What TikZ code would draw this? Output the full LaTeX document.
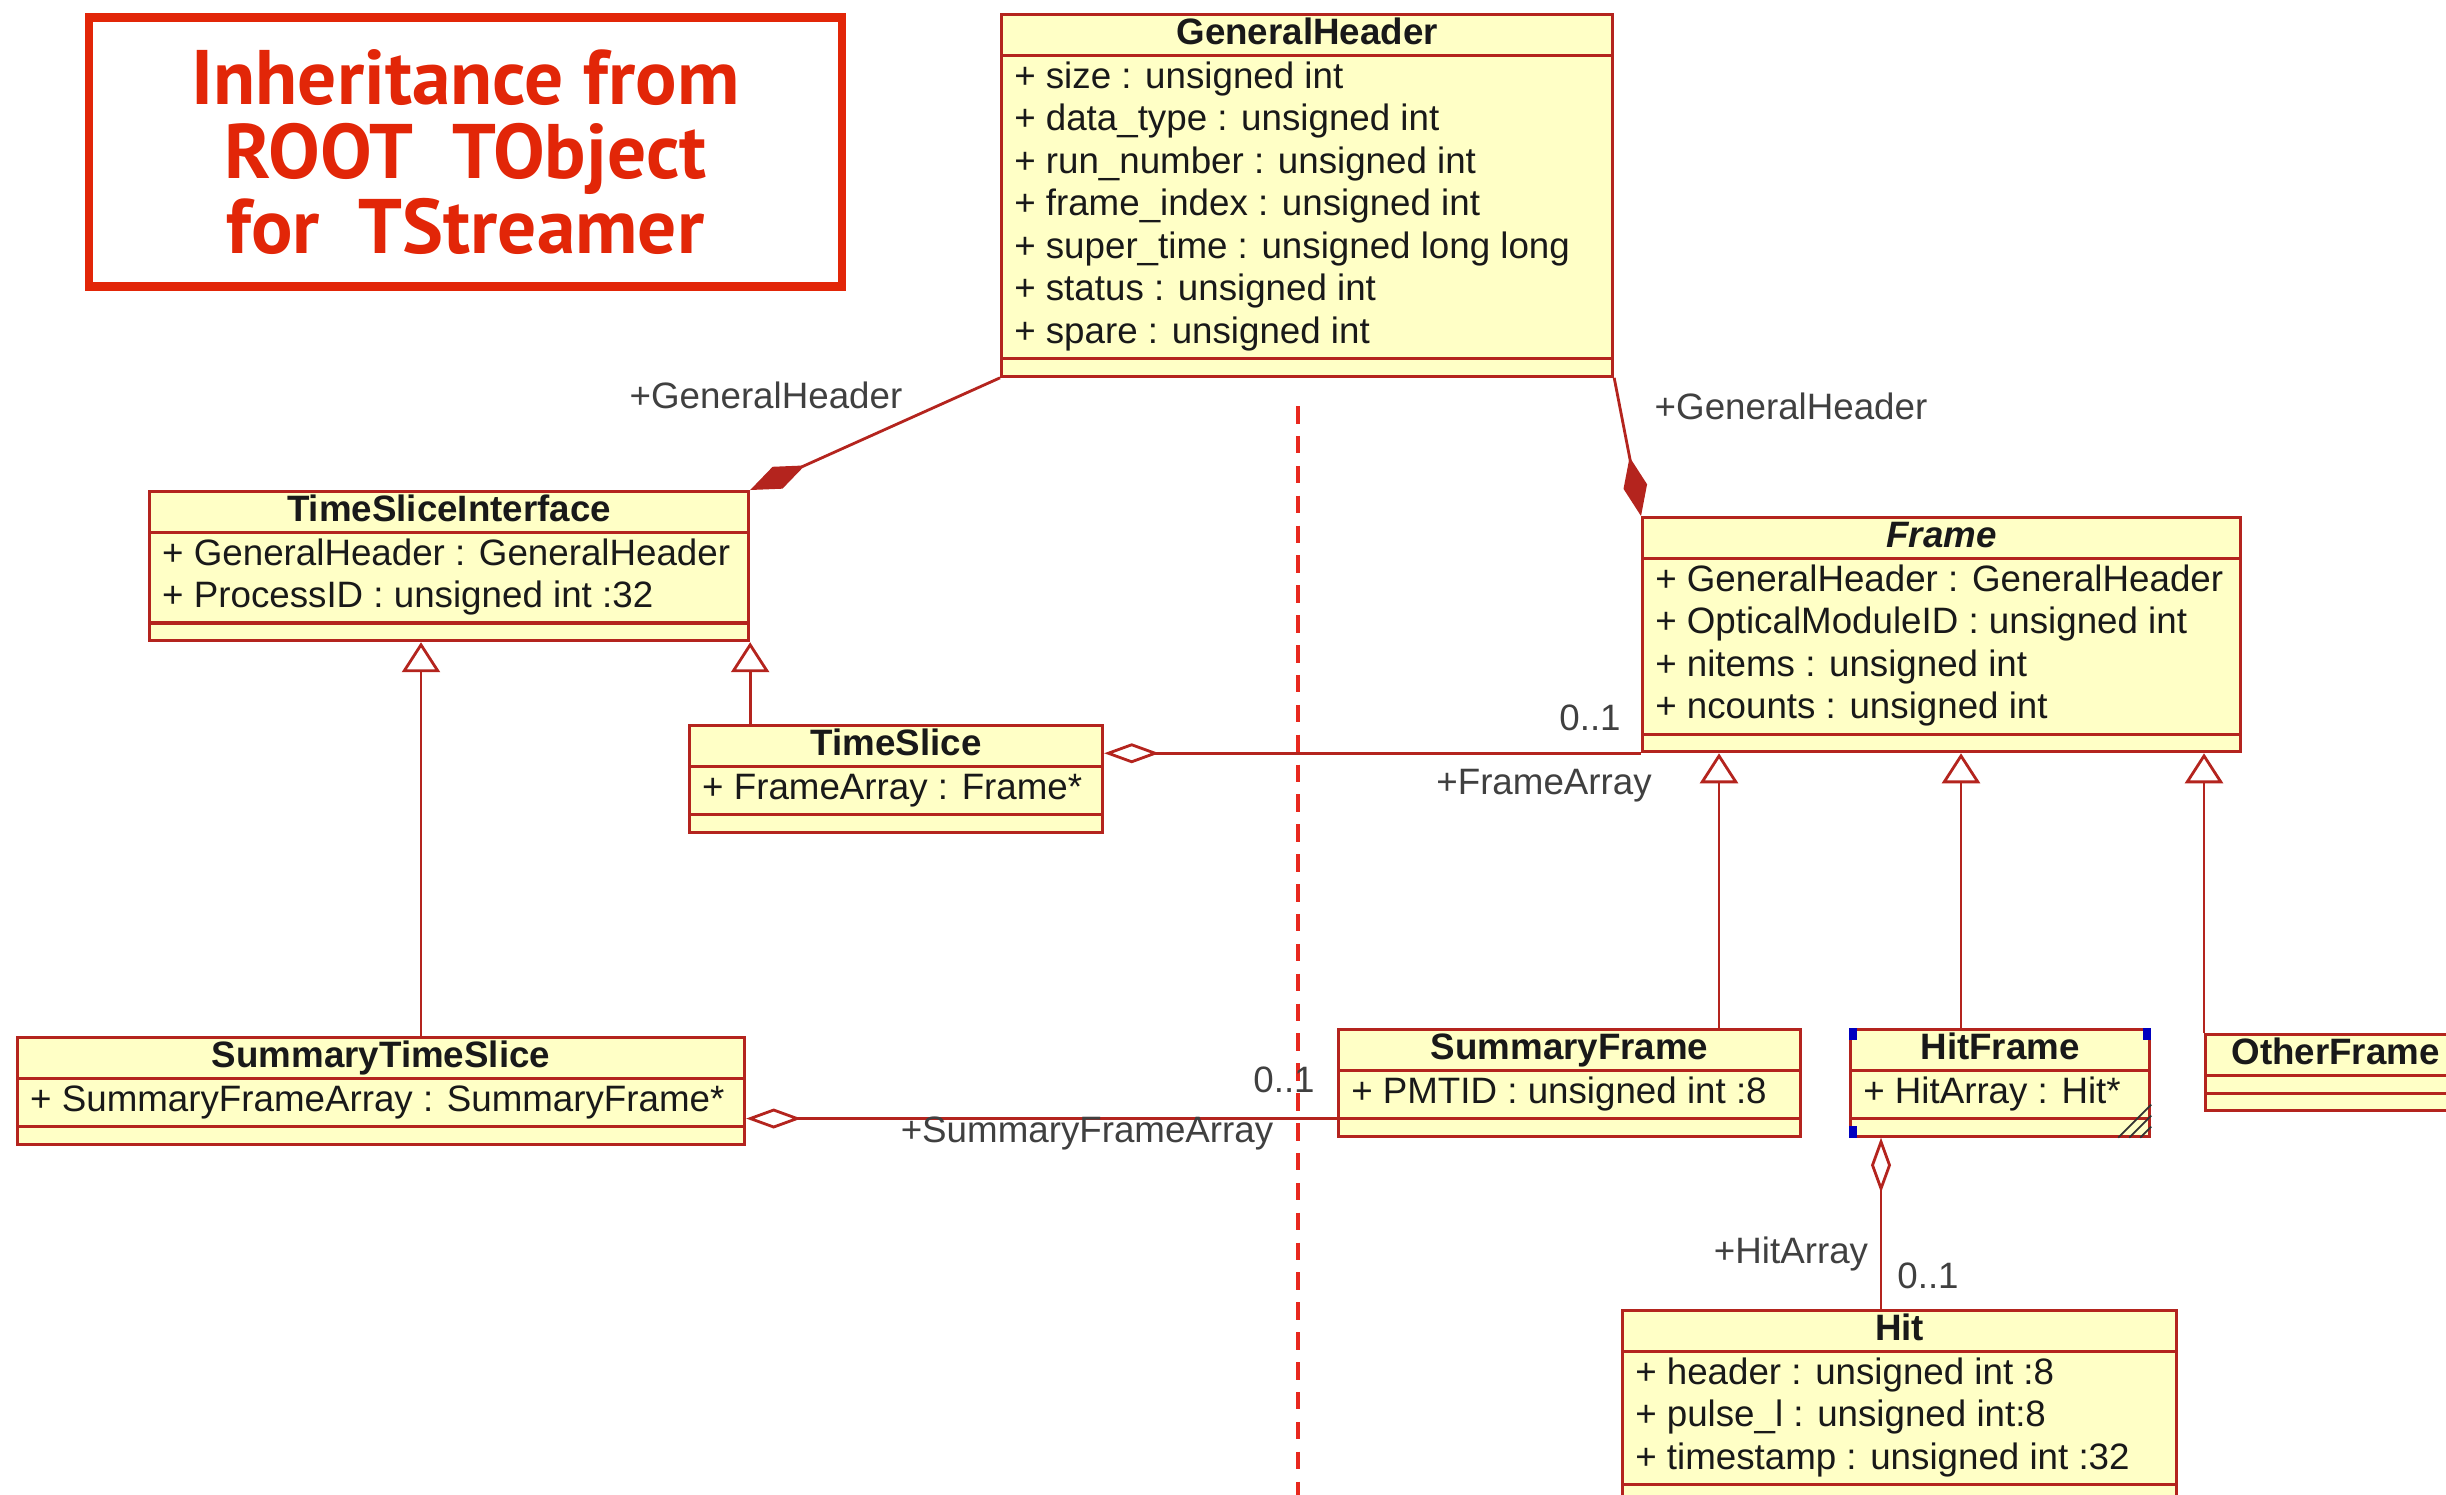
\documentclass[tikz,border=0pt]{standalone}
\usepackage{fontspec}
\setmainfont{Liberation Sans}
\newfontfamily\bannerfont{PT Sans}
\usetikzlibrary{positioning, calc, arrows.meta, shapes.multipart}

\definecolor{umlfill}{RGB}{255,255,198}
\definecolor{umlline}{RGB}{180,36,30}
\definecolor{bannerred}{RGB}{226,38,8}
\definecolor{sepred}{RGB}{232,40,30}

\newcommand{\umlfont}{\fontsize{10.45}{12.1}\selectfont}
\newcommand{\attr}[1]{+ #1\strut}
\newcommand{\headstrut}{\vrule height 7.8pt depth 2.4pt width 0pt}
\newcommand{\nostrut}{\vrule height 3.5pt depth 0pt width 0pt}

\begin{document}
\begin{tikzpicture}[>=stealth,
    umlclass/.style={rectangle split, rectangle split parts=3, draw=umlline, fill=umlfill,
        line width=0.9pt, font=\umlfont, text=black!90, inner xsep=3.6pt, inner ysep=0.3pt,
        rectangle split part align={center,left,left}, align=left, anchor=north west},
    compose/.style={draw=umlline, line width=0.8pt, -{Diamond[length=0.6cm, width=0.24cm, fill=umlline]}},
    aggr/.style={draw=umlline, line width=0.8pt, {Diamond[open, length=0.55cm, width=0.2cm]}-},
    inherit/.style={draw=umlline, line width=0.8pt, -{Triangle[open, length=0.3cm, width=0.38cm]}},
    role/.style={font=\umlfont, text=black!75}]

    \useasboundingbox (0,0) rectangle (24.46,-14.94);
    \clip (0,0) rectangle (24.46,-14.94);

    % ================= Banner =================
    \node[draw=bannerred, line width=2.4pt, minimum width=7.53cm, minimum height=2.69cm,
          align=center, text=bannerred,
          font=\bannerfont\bfseries\fontsize{22}{21.3}\selectfont] (banner) at (4.655,-1.52)
        {Inheritance from\\ROOT\ \ TObject\\for\ \ TStreamer};

    % Separator
    \draw[sepred, line width=1.3pt, dash pattern=on 5pt off 3.5pt] (12.98,-4.06) -- (12.98,-15.1);

    % ================= Classes =================
    \node[umlclass, minimum width=6.11cm] (gh) at (10.00,-0.13)
        {\textbf{GeneralHeader}\headstrut
         \nodepart{two}\attr{size : unsigned int}\\\attr{data\_type : unsigned int}\\
         \attr{run\_number : unsigned int}\\\attr{frame\_index : unsigned int}\\
         \attr{super\_time : unsigned long long}\\\attr{status : unsigned int}\\
         \attr{spare : unsigned int}
         \nodepart{three}\nostrut};

    \node[umlclass, minimum width=5.99cm] (tsi) at (1.48,-4.90)
        {\textbf{TimeSliceInterface}\headstrut
         \nodepart{two}\attr{GeneralHeader : GeneralHeader}\\\attr{ProcessID : unsigned int :32}
         \nodepart{three}\nostrut};

    \node[umlclass, minimum width=4.13cm] (ts) at (6.88,-7.24)
        {\textbf{TimeSlice}\headstrut
         \nodepart{two}\attr{FrameArray : Frame*}
         \nodepart{three}\nostrut};

    \node[umlclass, minimum width=5.98cm] (frame) at (16.41,-5.16)
        {\textbf{\textit{Frame}}\headstrut
         \nodepart{two}\attr{GeneralHeader : GeneralHeader}\\\attr{OpticalModuleID : unsigned int}\\
         \attr{nitems : unsigned int}\\\attr{ncounts : unsigned int}
         \nodepart{three}\nostrut};

    \node[umlclass, minimum width=7.27cm] (sts) at (0.16,-10.36)
        {\textbf{SummaryTimeSlice}\headstrut
         \nodepart{two}\attr{SummaryFrameArray : SummaryFrame*}
         \nodepart{three}\nostrut};

    \node[umlclass, minimum width=4.62cm] (sf) at (13.37,-10.28)
        {\textbf{SummaryFrame}\headstrut
         \nodepart{two}\attr{PMTID : unsigned int :8}
         \nodepart{three}\nostrut};

    \node[umlclass, minimum width=2.99cm] (hf) at (18.49,-10.28)
        {\textbf{HitFrame}\headstrut
         \nodepart{two}\attr{HitArray : Hit*}
         \nodepart{three}\nostrut};

    \node[umlclass, minimum width=2.6cm] (of) at (22.04,-10.33)
        {\textbf{OtherFrame}\headstrut
         \nodepart{two}\nostrut
         \nodepart{three}\nostrut};

    \node[umlclass, minimum width=5.54cm] (hit) at (16.21,-13.09)
        {\textbf{Hit}\headstrut
         \nodepart{two}\attr{header : unsigned int :8}\\\attr{pulse\_l : unsigned int:8}\\
         \attr{timestamp : unsigned int :32}
         \nodepart{three}\nostrut};

    % Selection handles and grip on HitFrame
    \fill[blue!75!black] (hf.north west) rectangle ++(0.08,-0.12);
    \fill[blue!75!black] (hf.north east) rectangle ++(-0.08,-0.12);
    \fill[blue!75!black] (hf.south west) rectangle ++(0.08,0.12);
    \foreach \d in {0.11,0.22,0.33}
        \draw[black!80, line width=0.5pt] ([xshift=-\d cm]hf.south east) -- ([yshift=\d cm]hf.south east);

    % ================= Composition =================
    \draw[compose] (gh.south west) -- (tsi.north east);
    \draw[compose] (gh.south east) -- (frame.north west);
    \node[role] (ghleft) at (7.66,-3.95) {+GeneralHeader};
    \node[role] (ghright) at (17.91,-4.06) {+GeneralHeader};

    % ================= Aggregation =================
    \draw[aggr] (ts.east |- frame.south west) -- (frame.south west);
    \node[role] (tsmult) at (15.90,-7.18) {0..1};
    \node[role] (tsrole) at (15.44,-7.86) {+FrameArray};

    \draw[aggr] (sts.east |- sf.two split west) -- (sf.two split west);
    \node[role] (stsmult) at (12.84,-10.80) {0..1};
    \node[role] (stsrole) at (10.87,-11.33) {+SummaryFrameArray};

    \draw[aggr] ([xshift=0.32cm]hf.south west) -- ([xshift=0.32cm]hf.south west |- hit.north);
    \node[role] (hfrole) at (17.91,-12.54) {+HitArray};
    \node[role] (hfmult) at (19.28,-12.76) {0..1};

    % ================= Inheritance =================
    \draw[inherit] (tsi.south east |- ts.north) -- (tsi.south east);
    \draw[inherit] ([xshift=4.05cm]sts.north west) -- ([xshift=4.05cm]sts.north west |- tsi.south);
    \draw[inherit] ([xshift=0.78cm]frame.south west |- sf.north) -- ([xshift=0.78cm]frame.south west);
    \draw[inherit] ([xshift=3.20cm]frame.south west |- hf.north) -- ([xshift=3.20cm]frame.south west);
    \draw[inherit] (of.north west) -- (of.north west |- frame.south);

\end{tikzpicture}
\end{document}
